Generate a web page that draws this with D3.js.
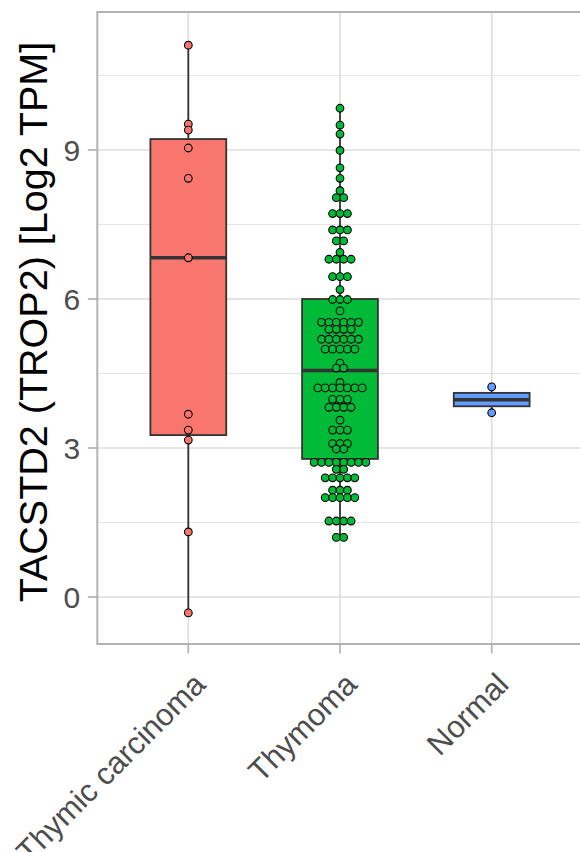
<!DOCTYPE html>
<html>
<head>
<meta charset="utf-8">
<script src="https://cdn.jsdelivr.net/npm/d3@7/dist/d3.min.js"></script>
<style>
  body { margin: 0; background: #fff; }
  .chart text { font-family: "Liberation Sans", Arial, sans-serif; }
</style>
</head>
<body>
<div class="chart"></div>
<script>
// categories and colours
const groups = ["Thymic carcinoma", "Thymoma", "Normal"];
const fills = ["#F8766D", "#00BA38", "#619CFF"];

// sample values (log2 TPM)
const carcinomaValues = [11.11, 9.52, 9.4, 9.04, 8.43, 6.83, 3.68, 3.36, 3.16, 1.31, -0.32];
const thymomaValues = [
  9.84, 9.5, 9.32, 8.99, 8.64, 8.43, 8.18,
  8.04, 8.04,
  7.72, 7.72, 7.72,
  7.39, 7.39, 7.39,
  7.17, 7.17,
  6.94,
  6.8, 6.8, 6.8, 6.8,
  6.45, 6.45, 6.45,
  6.19,
  5.99, 5.99, 5.99,
  5.76,
  5.53, 5.53, 5.53, 5.53, 5.53, 5.53,
  5.39, 5.39, 5.39, 5.39,
  5.19, 5.19, 5.19, 5.19, 5.19, 5.19,
  4.99, 4.99, 4.99, 4.99, 4.99,
  4.71,
  4.61, 4.61,
  4.32,
  4.21, 4.21, 4.21, 4.21, 4.21, 4.21, 4.21,
  3.98, 3.98, 3.98,
  3.82, 3.82, 3.82, 3.82,
  3.56,
  3.36, 3.36, 3.36,
  3.09, 3.09, 3.09,
  2.98, 2.98,
  2.71, 2.71, 2.71, 2.71, 2.71, 2.71, 2.71, 2.71,
  2.57, 2.57,
  2.4, 2.4, 2.4, 2.4, 2.4,
  2.15, 2.15, 2.15,
  2.0, 2.0, 2.0, 2.0, 2.0,
  1.53, 1.53, 1.53, 1.53,
  1.2, 1.2
];
const normalValues = [4.23, 3.71];

// box statistics per group
const q1s = [3.26, 2.78, 3.84];
const medians = [6.83, 4.56, 3.97];
const q3s = [9.22, 6.0, 4.11];
const whiskerLows = [-0.32, 1.2, 3.71];
const whiskerHighs = [11.11, 9.84, 4.23];

// axis ticks
const yTicks = [0, 3, 6, 9];
const yMinorTicks = [1.5, 4.5, 7.5, 10.5];

const yTitle = "TACSTD2 (TROP2) [Log2 TPM]";

const valuesByGroup = [carcinomaValues, thymomaValues, normalValues];

const draw = () => {
  let margin = { top: 12, right: 0, bottom: 208, left: 97.3 };
  const width = 485.4;
  const height = 632;

  let svg = d3
    .select(".chart")
    .append("svg")
    .attr("width", 580)
    .attr("height", 852)
    .append("g")
    .attr("transform", "translate(" + margin.left + "," + margin.top + ")");

  let x = d3.scalePoint().domain(groups).range([0, width]).padding(0.6);
  let y = d3.scaleLinear().domain([-0.946, 11.778]).range([height, 0]);

  const step = x.step();
  const boxHalf = step * 0.25;
  const dotStep = 7.4;

  // grid
  svg
    .selectAll(".minor")
    .data(yMinorTicks)
    .enter()
    .append("line")
    .attr("x1", 0)
    .attr("x2", width)
    .attr("y1", (d) => y(d))
    .attr("y2", (d) => y(d))
    .attr("stroke", "#e4e4e4")
    .attr("stroke-width", 1);

  svg
    .selectAll(".major")
    .data(yTicks)
    .enter()
    .append("line")
    .attr("x1", 0)
    .attr("x2", width)
    .attr("y1", (d) => y(d))
    .attr("y2", (d) => y(d))
    .attr("stroke", "#dedede")
    .attr("stroke-width", 1.7);

  svg
    .selectAll(".vgrid")
    .data(groups)
    .enter()
    .append("line")
    .attr("x1", (d) => x(d))
    .attr("x2", (d) => x(d))
    .attr("y1", 0)
    .attr("y2", height)
    .attr("stroke", "#dedede")
    .attr("stroke-width", 1.7);

  // boxes
  groups.forEach((g, i) => {
    const cx = x(g);
    const box = svg.append("g");
    box
      .append("line")
      .attr("x1", cx)
      .attr("x2", cx)
      .attr("y1", y(whiskerHighs[i]))
      .attr("y2", y(q3s[i]))
      .attr("stroke", "#333333")
      .attr("stroke-width", 1.8);
    box
      .append("line")
      .attr("x1", cx)
      .attr("x2", cx)
      .attr("y1", y(q1s[i]))
      .attr("y2", y(whiskerLows[i]))
      .attr("stroke", "#333333")
      .attr("stroke-width", 1.8);
    box
      .append("rect")
      .attr("x", cx - boxHalf)
      .attr("width", boxHalf * 2)
      .attr("y", y(q3s[i]))
      .attr("height", y(q1s[i]) - y(q3s[i]))
      .attr("fill", fills[i])
      .attr("stroke", "#333333")
      .attr("stroke-width", 1.8);
    box
      .append("line")
      .attr("x1", cx - boxHalf)
      .attr("x2", cx + boxHalf)
      .attr("y1", y(medians[i]))
      .attr("y2", y(medians[i]))
      .attr("stroke", "#333333")
      .attr("stroke-width", 3.6);
  });

  // stacked dots, centred on each group
  groups.forEach((g, i) => {
    const bins = d3.groups(valuesByGroup[i], (v) => v);
    const dots = [];
    bins.forEach(([v, arr]) => {
      arr.forEach((_, k) => {
        dots.push({ v: v, off: (k - (arr.length - 1) / 2) * dotStep });
      });
    });
    svg
      .append("g")
      .selectAll("circle")
      .data(dots)
      .enter()
      .append("circle")
      .attr("cx", (d) => x(g) + d.off)
      .attr("cy", (d) => y(d.v))
      .attr("r", 3.85)
      .attr("fill", fills[i])
      .attr("stroke", "#000")
      .attr("stroke-width", 1.1);
  });

  // panel border
  svg
    .append("rect")
    .attr("width", width)
    .attr("height", height)
    .attr("fill", "none")
    .attr("stroke", "#b3b3b3")
    .attr("stroke-width", 2);

  // y axis
  const tickLen = 9.5;
  svg
    .selectAll(".ytick")
    .data(yTicks)
    .enter()
    .append("line")
    .attr("x1", -tickLen)
    .attr("x2", 0)
    .attr("y1", (d) => y(d))
    .attr("y2", (d) => y(d))
    .attr("stroke", "#b3b3b3")
    .attr("stroke-width", 1.7);

  svg
    .selectAll(".ylabel")
    .data(yTicks)
    .enter()
    .append("text")
    .attr("x", -tickLen - 7.6)
    .attr("y", (d) => y(d))
    .attr("dy", "0.36em")
    .style("text-anchor", "end")
    .style("font-size", "30px")
    .attr("fill", "#4d4d4d")
    .text((d) => d);

  svg
    .append("text")
    .attr("transform", "rotate(-90)")
    .attr("x", -height / 2 + 6)
    .attr("y", 47 - margin.left)
    .style("text-anchor", "middle")
    .style("font-size", "39.5px")
    .attr("fill", "#000")
    .text(yTitle);

  // x axis
  svg
    .selectAll(".xtick")
    .data(groups)
    .enter()
    .append("line")
    .attr("x1", (d) => x(d))
    .attr("x2", (d) => x(d))
    .attr("y1", height)
    .attr("y2", height + tickLen)
    .attr("stroke", "#b3b3b3")
    .attr("stroke-width", 1.7);

  svg
    .selectAll(".xlabel")
    .data(groups)
    .enter()
    .append("text")
    .attr(
      "transform",
      (d) => "translate(" + (x(d) + 3) + "," + (height + tickLen + 17) + ") rotate(-45)"
    )
    .attr("dy", "0.72em")
    .style("text-anchor", "end")
    .style("font-size", "31px")
    .attr("fill", "#4d4d4d")
    .text((d) => d);
};

draw();
</script>
</body>
</html>
